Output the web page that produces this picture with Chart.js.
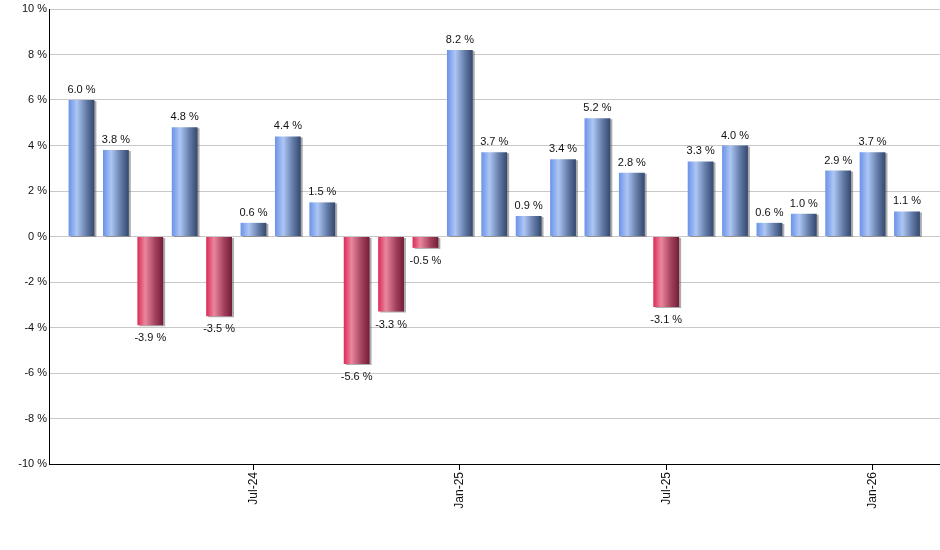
<!DOCTYPE html>
<html>
<head>
<meta charset="utf-8">
<script src="https://cdn.jsdelivr.net/npm/chart.js@4.4.1/dist/chart.umd.min.js"></script>
<style>
  html, body { margin: 0; padding: 0; background: #fff; }
  #wrap { width: 940px; height: 550px; }
</style>
</head>
<body>
<div id="wrap"><canvas id="chart" width="940" height="550"></canvas></div>
<script>
// monthly returns, Feb-24 .. Feb-26
const months = [
  'Feb-24', 'Mar-24', 'Apr-24', 'May-24', 'Jun-24', 'Jul-24', 'Aug-24', 'Sep-24',
  'Oct-24', 'Nov-24', 'Dec-24', 'Jan-25', 'Feb-25', 'Mar-25', 'Apr-25', 'May-25',
  'Jun-25', 'Jul-25', 'Aug-25', 'Sep-25', 'Oct-25', 'Nov-25', 'Dec-25', 'Jan-26', 'Feb-26',
];
const returns = [
  6.0, 3.8, -3.9, 4.8, -3.5, 0.6, 4.4, 1.5,
  -5.6, -3.3, -0.5, 8.2, 3.7, 0.9, 3.4, 5.2,
  2.8, -3.1, 3.3, 4.0, 0.6, 1.0, 2.9, 3.7, 1.1,
];
const tickLabels = ['Jul-24', 'Jan-25', 'Jul-25', 'Jan-26'];
const yTicks = [-10, -8, -6, -4, -2, 0, 2, 4, 6, 8, 10];

const FONT = '"Liberation Sans", Arial, sans-serif';

const blueStops = [[0, '#6a92e8'], [0.32, '#adc6f4'], [0.7, '#627aa6'], [1, '#34486e']];
const redStops = [[0, '#dc2a55'], [0.3, '#ea879e'], [0.7, '#a2405c'], [1, '#721c36']];

// gradient fill + drop shadow on the bars, value labels above/below
const barStyle = {
  id: 'barStyle',
  beforeDatasetsDraw(chart) {
    const ctx = chart.ctx;
    const meta = chart.getDatasetMeta(0);
    meta.data.forEach((el, i) => {
      const p = el.getProps(['x', 'width'], true);
      const left = p.x - p.width / 2;
      const g = ctx.createLinearGradient(left, 0, left + p.width, 0);
      (returns[i] >= 0 ? blueStops : redStops).forEach((s) => g.addColorStop(s[0], s[1]));
      el.options.backgroundColor = g;
    });
    ctx.save();
    ctx.shadowColor = 'rgba(90,90,90,0.5)';
    ctx.shadowOffsetX = 2;
    ctx.shadowOffsetY = 1;
    ctx.shadowBlur = 0;
  },
  afterDatasetsDraw(chart) {
    const ctx = chart.ctx;
    ctx.restore();
    const meta = chart.getDatasetMeta(0);
    ctx.save();
    ctx.font = '11px ' + FONT;
    ctx.fillStyle = '#111';
    ctx.textAlign = 'center';
    ctx.textBaseline = 'alphabetic';
    meta.data.forEach((el, i) => {
      const p = el.getProps(['x', 'y', 'base'], true);
      const txt = returns[i].toFixed(1) + ' %';
      if (returns[i] >= 0) {
        ctx.fillText(txt, p.x, p.y - 7);
      } else {
        ctx.fillText(txt, p.x, p.y + 16);
      }
    });
    ctx.restore();
  },
};

new Chart(document.getElementById('chart'), {
  type: 'bar',
  data: {
    datasets: [{
      data: returns.map((v, i) => ({ x: i, y: v })),
      backgroundColor: (c) => (c.raw && c.raw.y < 0 ? '#c8305a' : '#6f92da'),
      borderWidth: 0,
      categoryPercentage: 1.0,
      barPercentage: 0.75,
    }],
  },
  options: {
    responsive: false,
    animation: false,
    events: [],
    layout: { padding: { top: 9, right: 0, bottom: 0, left: 0 } },
    plugins: {
      legend: { display: false },
      tooltip: { enabled: false },
      title: { display: false },
    },
    scales: {
      x: {
        type: 'linear',
        offset: false,
        min: -0.945,
        max: 24.96,
        afterBuildTicks: (s) => {
          s.ticks = tickLabels.map((t) => ({ value: months.indexOf(t) }));
        },
        afterFit: (s) => { s.height = 86; },
        grid: {
          offset: false,
          drawOnChartArea: false,
          drawTicks: true,
          tickLength: 6,
          tickWidth: 1,
          tickColor: '#000',
        },
        border: { display: true, color: '#000', width: 1 },
        ticks: {
          autoSkip: false,
          minRotation: 90,
          maxRotation: 90,
          padding: 2,
          color: '#111',
          font: { family: FONT, size: 12 },
          callback: (v) => months[v],
        },
      },
      y: {
        min: -10,
        max: 10,
        afterBuildTicks: (s) => {
          s.ticks = yTicks.map((v) => ({ value: v }));
        },
        afterFit: (s) => { s.width = 49; },
        grid: {
          color: '#c8c8c8',
          drawTicks: false,
          lineWidth: 1,
        },
        border: { display: true, color: '#000', width: 1 },
        ticks: {
          padding: 2,
          color: '#111',
          font: { family: FONT, size: 11 },
          callback: (v) => v + ' %',
        },
      },
    },
  },
  plugins: [barStyle],
});
</script>
</body>
</html>
